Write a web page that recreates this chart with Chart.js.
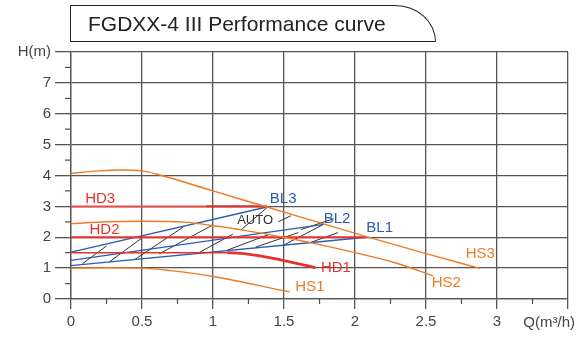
<!DOCTYPE html>
<html>
<head>
<meta charset="utf-8">
<script src="https://cdn.jsdelivr.net/npm/chart.js@4/dist/chart.umd.min.js"></script>
<style>
  html, body { margin: 0; padding: 0; background: #fff; }
  #wrap { position: relative; width: 576px; height: 338px; }
  #title {
    position: absolute; left: 70px; top: 5px; width: 366px; height: 37px;
    border: 1.5px solid #222; border-top-right-radius: 42px 38px;
    font: 21px 'Liberation Sans', Arial, sans-serif; color: #222;
    line-height: 36px; padding-left: 17px; box-sizing: border-box;
  }
  canvas { position: absolute; left: 0; top: 0; }
</style>
</head>
<body>
<div id="wrap">
  <canvas id="perf" width="576" height="338"></canvas>
  <div id="title">FGDXX-4 III Performance curve</div>
</div>
<script>
// curve data (Q in m3/h, H in m)
const hs3Q = [0, 0.2, 0.35, 0.5, 0.6, 1.0, 1.38, 2.08, 2.5, 2.88];
const hs3H = [4.07, 4.15, 4.18, 4.15, 4.05, 3.5, 2.98, 2.02, 1.47, 0.99];
const hs2Q = [0, 0.25, 0.5, 0.8, 1.0, 1.25, 1.5, 1.75, 2.0, 2.3, 2.55];
const hs2H = [2.44, 2.5, 2.52, 2.49, 2.38, 2.2, 2.0, 1.76, 1.5, 1.15, 0.75];
const hs1Q = [0, 0.25, 0.5, 0.7, 1.0, 1.54];
const hs1H = [1.0, 1.01, 1.0, 0.92, 0.73, 0.23];

const hd3Q = [0, 0.95];
const hd3H = [3, 3];
const hd3endQ = [0.95, 1.38];
const hd3endH = [3, 3];
const hd2Q = [0, 2.08];
const hd2H = [2, 2];
const hd1Q = [0, 1.1];
const hd1H = [1.5, 1.5];
const hd1dropQ = [1.1, 1.2, 1.35, 1.72];
const hd1dropH = [1.5, 1.48, 1.38, 1.02];

const bl3Q = [0, 1.38];
const bl3H = [1.52, 2.98];
const bl2Q = [0, 1.78];
const bl2H = [1.25, 2.42];
const bl1Q = [0, 2.08];
const bl1H = [1.08, 2.0];

// AUTO hatch segments [q1, h1, q2, h2]
const hatch = [
  [0.08, 1.14, 0.25, 1.72],
  [0.27, 1.2, 0.5, 1.98],
  [0.45, 1.28, 0.79, 2.33],
  [0.62, 1.46, 1.0, 2.4],
  [0.9, 1.5, 1.14, 2.1],
  [1.1, 1.58, 1.4, 2.1],
  [1.2, 2.25, 1.38, 2.96],
  [1.3, 1.68, 1.6, 2.15],
  [1.46, 2.5, 1.55, 2.7],
  [1.5, 1.75, 1.78, 2.42],
  [1.68, 1.82, 1.88, 2.15],
  [1.62, 2.25, 1.85, 2.6]
];

const xTicks = [0, 0.5, 1, 1.5, 2, 2.5, 3];
const yTicks = [0, 1, 2, 3, 4, 5, 6, 7];

const ORANGE = '#f07a22';
const RED = '#e8302c';
const BLUE = '#2a5caf';
const GRID = '#555555';

const curveLabels = [
  { t: 'HD3', q: 0.1, h: 3.24, c: RED },
  { t: 'HD2', q: 0.13, h: 2.23, c: RED },
  { t: 'HD1', q: 1.76, h: 1.02, c: RED },
  { t: 'BL3', q: 1.4, h: 3.23, c: BLUE },
  { t: 'BL2', q: 1.78, h: 2.6, c: BLUE },
  { t: 'BL1', q: 2.08, h: 2.29, c: BLUE },
  { t: 'AUTO', q: 1.17, h: 2.53, c: '#333' },
  { t: 'HS3', q: 2.78, h: 1.46, c: ORANGE },
  { t: 'HS2', q: 2.54, h: 0.52, c: ORANGE },
  { t: 'HS1', q: 1.58, h: 0.38, c: ORANGE }
];

function pts(qs, hs) {
  return qs.map((q, i) => ({ x: q, y: hs[i] }));
}

function line(qs, hs, color, width, smooth) {
  return {
    data: pts(qs, hs),
    borderColor: color,
    borderWidth: width,
    pointRadius: 0,
    fill: false,
    cubicInterpolationMode: smooth ? 'monotone' : 'default',
    tension: 0
  };
}

const hatchData = hatch.flatMap(s => [
  { x: s[0], y: s[1] }, { x: s[2], y: s[3] }, { x: s[2], y: null }
]);

const extras = {
  id: 'extras',
  afterDraw(chart) {
    const { ctx, chartArea: a, scales: { x, y } } = chart;
    ctx.save();
    // minor ticks
    ctx.strokeStyle = GRID;
    ctx.lineWidth = 1.3;
    ctx.beginPath();
    for (let q = 0.25; q < 3.5; q += 0.5) {
      const px = x.getPixelForValue(q);
      ctx.moveTo(px, a.bottom);
      ctx.lineTo(px, a.bottom + 5);
    }
    for (let h = 0.5; h < 8; h += 1) {
      const py = y.getPixelForValue(h);
      ctx.moveTo(a.left - 6, py);
      ctx.lineTo(a.left, py);
    }
    ctx.stroke();
    // curve names
    ctx.textBaseline = 'middle';
    ctx.textAlign = 'left';
    curveLabels.forEach(l => {
      ctx.fillStyle = l.c;
      ctx.font = (l.t === 'AUTO' ? '13px' : '15px') + " 'Liberation Sans', Arial, sans-serif";
      ctx.fillText(l.t, x.getPixelForValue(l.q), y.getPixelForValue(l.h));
    });
    // axis title
    ctx.fillStyle = '#444';
    ctx.font = "15px 'Liberation Sans', Arial, sans-serif";
    ctx.textAlign = 'right';
    ctx.fillText('Q(m\u00B3/h)', 575, 323);
    ctx.restore();
  }
};

Chart.defaults.font.family = "'Liberation Sans', Arial, sans-serif";

new Chart(document.getElementById('perf'), {
  type: 'line',
  data: {
    datasets: [
      line(hs3Q, hs3H, ORANGE, 1.4, true),
      line(hs2Q, hs2H, ORANGE, 1.4, true),
      line(hs1Q, hs1H, ORANGE, 1.4, true),
      line(hd3Q, hd3H, '#ec4d4a', 2),
      line(hd3endQ, hd3endH, '#d8302b', 2.4),
      line(hd2Q, hd2H, RED, 2.2),
      line(hd1Q, hd1H, RED, 1.6),
      line(hd1dropQ, hd1dropH, RED, 2.8, true),
      line(bl3Q, bl3H, BLUE, 1.3),
      line(bl2Q, bl2H, BLUE, 1.3),
      line(bl1Q, bl1H, BLUE, 1.3),
      Object.assign(line([], [], '#333', 1), { data: hatchData, spanGaps: false })
    ]
  },
  options: {
    responsive: false,
    animation: false,
    layout: { padding: { top: 52, right: 8, left: 0, bottom: 0 } },
    plugins: { legend: { display: false }, tooltip: { enabled: false } },
    scales: {
      x: {
        type: 'linear', min: 0, max: 3.5,
        afterBuildTicks: s => { s.ticks = xTicks.concat([3.5]).map(v => ({ value: v })); },
        afterFit: s => { s.height = 39; },
        ticks: {
          color: '#444', font: { size: 15 }, padding: 4, maxRotation: 0,
          callback: v => (v === 3.5 ? '' : String(v))
        },
        grid: { color: GRID, lineWidth: 1.3, tickLength: 10 },
        border: { color: GRID, width: 1.3 }
      },
      y: {
        min: 0, max: 8,
        afterBuildTicks: s => { s.ticks = yTicks.concat([8]).map(v => ({ value: v })); },
        afterFit: s => { s.width = 71; },
        ticks: {
          color: '#444', font: { size: 15 }, padding: 4,
          callback: v => (v === 8 ? 'H(m)' : String(v))
        },
        grid: { color: GRID, lineWidth: 1.3, tickLength: 16 },
        border: { color: GRID, width: 1.3 }
      }
    }
  },
  plugins: [extras]
});
</script>
</body>
</html>
